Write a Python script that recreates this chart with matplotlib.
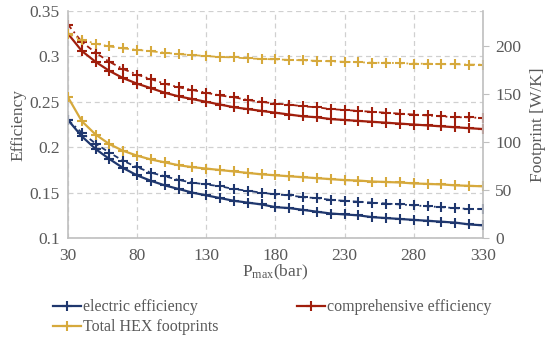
import numpy as np
import matplotlib
matplotlib.use('Agg')
import matplotlib.pyplot as plt

p_max = np.arange(30, 331, 10)

# efficiency (left axis)
elec_eff = [0.230, 0.212, 0.198, 0.187, 0.177, 0.169, 0.163, 0.158, 0.154, 0.150,
            0.147, 0.144, 0.141, 0.139, 0.137, 0.134, 0.133, 0.131, 0.129, 0.127,
            0.126, 0.125, 0.123, 0.122, 0.121, 0.120, 0.119, 0.118, 0.117, 0.115, 0.114]
elec_eff_2 = [0.230, 0.216, 0.204, 0.194, 0.185, 0.178, 0.172, 0.168, 0.164, 0.161,
              0.159, 0.157, 0.154, 0.152, 0.150, 0.148, 0.147, 0.145, 0.144, 0.142,
              0.141, 0.140, 0.139, 0.138, 0.137, 0.136, 0.135, 0.134, 0.133, 0.132, 0.132]
comp_eff = [0.325, 0.306, 0.294, 0.284, 0.276, 0.270, 0.265, 0.260, 0.256, 0.253,
            0.250, 0.247, 0.244, 0.242, 0.240, 0.238, 0.236, 0.234, 0.233, 0.231,
            0.230, 0.229, 0.228, 0.227, 0.226, 0.225, 0.224, 0.223, 0.222, 0.221, 0.220]
comp_eff_2 = [0.335, 0.316, 0.304, 0.294, 0.286, 0.280, 0.275, 0.270, 0.266, 0.263,
              0.260, 0.257, 0.255, 0.252, 0.250, 0.248, 0.247, 0.245, 0.244, 0.242,
              0.241, 0.240, 0.239, 0.238, 0.237, 0.236, 0.235, 0.234, 0.233, 0.233, 0.232]
# footprints (right axis, W/K)
hex_fp = [147, 122, 108, 98, 91, 86, 82, 79, 76, 74,
          72.5, 71, 69.5, 68, 66.5, 65.5, 64.5, 63.5, 62.5, 61.5,
          60.5, 60, 59, 58.5, 58, 57, 56.5, 56, 55, 54.5, 54]
hex_fp_2 = [213.5, 207, 203, 200, 198, 196.5, 195, 193.5, 192, 191,
            190, 189, 188.5, 187.5, 187, 186.5, 186, 185.5, 185, 184.5,
            184, 183.5, 183, 183, 182.5, 182, 182, 181.5, 181.5, 181, 181]

c_blue = '#1F376E'
c_red = '#A01E0C'
c_gold = '#D6A93C'
c_txt = '#595959'
c_grid = '#D0D0D0'

plt.rcParams['font.family'] = ['Liberation Serif', 'DejaVu Serif']
plt.rcParams['mathtext.fontset'] = 'custom'
plt.rcParams['mathtext.rm'] = 'Liberation Serif'

fig = plt.figure(figsize=(5.5, 3.44), dpi=100)
ax1 = fig.add_axes([0.1236, 0.308, 0.7544, 0.660])
ax2 = ax1.twinx()

mk = dict(marker='+', markersize=7, markeredgewidth=1.5)
dd = (0, (3, 2, 1, 2))
l1, = ax1.plot(p_max, elec_eff, '-', color=c_blue, lw=1.6, **mk)
ax1.plot(p_max, elec_eff_2, linestyle=dd, color=c_blue, lw=1.3, **mk)
l2, = ax1.plot(p_max, comp_eff, '-', color=c_red, lw=1.6, **mk)
ax1.plot(p_max, comp_eff_2, linestyle=dd, color=c_red, lw=1.3, **mk)
l3, = ax2.plot(p_max, hex_fp, '-', color=c_gold, lw=1.6, **mk)
ax2.plot(p_max, hex_fp_2, linestyle=dd, color=c_gold, lw=1.3, **mk)

ax1.set_xlim(30, 330)
ax1.set_ylim(0.1, 0.35)
ax2.set_ylim(0, 237)
ax1.set_xticks(np.arange(30, 331, 50))
ax1.set_yticks([0.1, 0.15, 0.2, 0.25, 0.3, 0.35])
ax1.set_yticklabels(['0.1', '0.15', '0.2', '0.25', '0.3', '0.35'])
ax2.set_yticks([0, 50, 100, 150, 200])

ax1.grid(True, color=c_grid, linestyle=(0, (4, 3)), lw=0.9)
ax1.set_axisbelow(True)
for ax in [ax1, ax2]:
    for s in ax.spines.values():
        s.set_visible(False)
ax1.spines['left'].set_visible(True)
ax1.spines['bottom'].set_visible(True)
ax2.spines['right'].set_visible(True)
for s in [ax1.spines['left'], ax1.spines['bottom'], ax2.spines['right']]:
    s.set_color('#BFBFBF')
    s.set_linewidth(1.2)

ax1.tick_params(axis='y', length=0, labelsize=12.5, labelcolor=c_txt, pad=6)
ax1.tick_params(axis='x', length=0, labelsize=12.5, labelcolor=c_txt, pad=7)
ax2.tick_params(axis='y', length=4, color='#BFBFBF', labelsize=12.5, labelcolor=c_txt, pad=5)

ax1.set_ylabel('Efficiency', fontsize=12.5, color=c_txt, labelpad=2)
ax2.set_ylabel('Footprint [W/K]', fontsize=12.5, color=c_txt, labelpad=6)
ax1.set_xlabel(r'$\mathregular{P_{max}}$(bar)', fontsize=12.5, color=c_txt, labelpad=-1)

fig.legend([l1, l3, l2], ['electric efficiency', 'Total HEX footprints', 'comprehensive efficiency'],
           ncol=2, loc='upper left', bbox_to_anchor=(0.085, 0.148), frameon=False,
           fontsize=11.5, labelcolor=c_txt, handlelength=1.75, handletextpad=0.12,
           columnspacing=4.9, labelspacing=0.25, borderaxespad=0)

fig.savefig('out.png', dpi=100)
